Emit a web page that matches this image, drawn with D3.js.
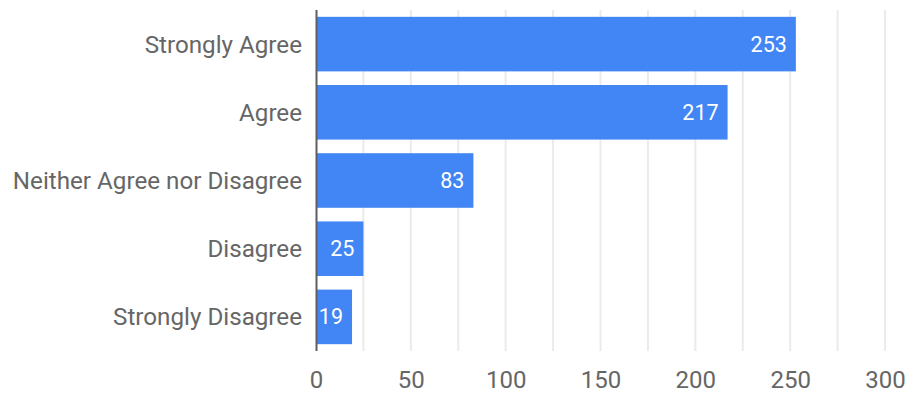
<!DOCTYPE html>
<html><head><meta charset="utf-8">
<script src="https://d3js.org/d3.v7.min.js"></script>
<style>body{margin:0;background:#fff}svg{display:block}text{font-family:Roboto,"Noto Sans",sans-serif}</style>
</head><body><svg id="c" width="910" height="400"></svg>
<script>
const categories = ["Strongly Agree","Agree","Neither Agree nor Disagree","Disagree","Strongly Disagree"];
const values = [253,217,83,25,19];
const tickValues = [0,50,100,150,200,250,300];
const gridValues = [25,50,75,100,125,150,175,200,225,250,275,300];

const svg = d3.select("#c");
const m = {left:316, right:25, top:10, bottom:49};
const W = 910, H = 400;
const x = d3.scaleLinear().domain([0,300]).range([m.left, W-m.right]);
const y = d3.scaleBand().domain(categories).range([m.top, H-m.bottom]).paddingInner(0.2).paddingOuter(0.1);

svg.append("g").selectAll("line").data(gridValues).join("line")
  .attr("x1",d=>x(d)).attr("x2",d=>x(d)).attr("y1",m.top).attr("y2",H-m.bottom)
  .attr("stroke","#ebebeb").attr("stroke-width",2);

svg.append("g").selectAll("rect").data(values).join("rect")
  .attr("x",x(0)).attr("y",(d,i)=>y(categories[i])).attr("width",d=>x(d)-x(0)).attr("height",y.bandwidth())
  .attr("fill","#4285f4");

svg.append("g").selectAll("text").data(values).join("text")
  .attr("x",d=>x(d)-9).attr("y",(d,i)=>y(categories[i])+y.bandwidth()/2).attr("dy","0.35em")
  .attr("text-anchor","end").attr("fill","#fff").attr("font-size",21.5).text(d=>d);

svg.append("line").attr("x1",x(0)+0.5).attr("x2",x(0)+0.5).attr("y1",m.top).attr("y2",H-m.bottom)
  .attr("stroke","#5f5f5f").attr("stroke-width",2);

const ya = svg.append("g").attr("transform",`translate(${m.left-14},0)`)
  .call(d3.axisLeft(y).tickSize(0).tickPadding(0));
ya.select(".domain").remove();
ya.selectAll("text").attr("font-size",24.2).attr("fill","#666").attr("dy","0.35em").style("font-family","Roboto");

const xa = svg.append("g").attr("transform",`translate(0,${H-m.bottom+20})`)
  .call(d3.axisBottom(x).tickValues(tickValues).tickSize(0).tickPadding(0));
xa.select(".domain").remove();
xa.selectAll("text").attr("font-size",24).attr("fill","#666").attr("dy","0.71em").style("font-family","Roboto");
</script></body></html>
